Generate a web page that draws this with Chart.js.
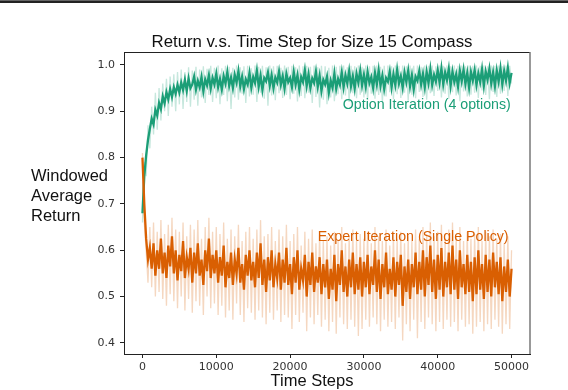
<!DOCTYPE html>
<html>
<head>
<meta charset="utf-8">
<script src="https://cdn.jsdelivr.net/npm/chart.js@4.4.1/dist/chart.umd.min.js"></script>
<style>
  html, body { margin: 0; padding: 0; background: #fff; }
  #wrap { position: relative; width: 568px; height: 390px; }
  #topbar { position: absolute; left: 0; top: 0; width: 568px; height: 3px; background: #222; border-top: 1px solid #666; box-sizing: border-box; }
</style>
</head>
<body>
<div id="wrap">
  <canvas id="chart" width="568" height="390"></canvas>
  <div id="topbar"></div>
</div>
<script>
// windowed return, sampled every 250 time steps (0 .. 50000)
const STEP = 250;
const xTicks = [0, 10000, 20000, 30000, 40000, 50000];
const yTicks = [0.4, 0.5, 0.6, 0.7, 0.8, 0.9, 1.0];

const optionMean = [
  0.680, 0.760, 0.805, 0.838, 0.862, 0.884, 0.872, 0.903, 0.891, 0.918, 0.905, 0.932, 0.917, 0.941, 0.926, 0.948, 0.931, 0.952, 0.938, 0.957,
  0.941, 0.962, 0.946, 0.968, 0.944, 0.971, 0.950, 0.958, 0.975, 0.947, 0.966, 0.952, 0.974, 0.943, 0.969, 0.956, 0.978, 0.949, 0.972, 0.958,
  0.981, 0.952, 0.970, 0.947, 0.976, 0.960, 0.985, 0.955, 0.973, 0.950, 0.979, 0.962, 0.987, 0.954, 0.975, 0.948, 0.969, 0.958, 0.983, 0.951,
  0.974, 0.961, 0.988, 0.953, 0.977, 0.946, 0.972, 0.965, 0.984, 0.955, 0.978, 0.950, 0.973, 0.962, 0.986, 0.957, 0.976, 0.949, 0.981, 0.963,
  0.972, 0.952, 0.985, 0.958, 0.978, 0.947, 0.974, 0.963, 0.989, 0.955, 0.980, 0.950, 0.971, 0.961, 0.986, 0.953, 0.977, 0.944, 0.968, 0.958,
  0.975, 0.940, 0.966, 0.951, 0.982, 0.948, 0.970, 0.957, 0.984, 0.952, 0.978, 0.960, 0.987, 0.954, 0.976, 0.949, 0.981, 0.962, 0.988, 0.956,
  0.979, 0.953, 0.985, 0.961, 0.974, 0.950, 0.983, 0.958, 0.989, 0.955, 0.977, 0.948, 0.972, 0.964, 0.986, 0.952, 0.980, 0.957, 0.990, 0.960,
  0.976, 0.951, 0.984, 0.963, 0.988, 0.954, 0.978, 0.947, 0.975, 0.966, 0.987, 0.958, 0.981, 0.952, 0.985, 0.961, 0.991, 0.957, 0.979, 0.964,
  0.989, 0.962, 0.993, 0.958, 0.984, 0.967, 0.992, 0.955, 0.986, 0.963, 0.980, 0.953, 0.988, 0.965, 0.990, 0.959, 0.983, 0.951, 0.985, 0.966,
  0.989, 0.957, 0.982, 0.963, 0.991, 0.955, 0.986, 0.968, 0.992, 0.960, 0.984, 0.954, 0.988, 0.964, 0.993, 0.958, 0.987, 0.966, 0.994, 0.961,
  0.983
];
const optionRaw = [
  0.660, 0.790, 0.760, 0.870, 0.820, 0.910, 0.850, 0.940, 0.860, 0.950, 0.880, 0.960, 0.900, 0.970, 0.890, 0.975, 0.910, 0.980, 0.900, 0.985,
  0.915, 0.990, 0.905, 0.985, 0.920, 0.995, 0.910, 0.988, 0.925, 0.996, 0.912, 0.990, 0.930, 0.997, 0.918, 0.992, 0.935, 0.998, 0.920, 0.994,
  0.928, 0.999, 0.915, 0.993, 0.935, 0.998, 0.922, 0.996, 0.905, 0.994, 0.930, 0.999, 0.925, 0.995, 0.938, 0.997, 0.918, 0.998, 0.932, 0.993,
  0.936, 0.999, 0.920, 0.996, 0.940, 0.998, 0.927, 0.995, 0.912, 0.999, 0.934, 0.997, 0.924, 0.998, 0.939, 0.994, 0.929, 0.999, 0.935, 0.996,
  0.926, 0.998, 0.938, 0.995, 0.921, 0.999, 0.933, 0.997, 0.928, 0.998, 0.940, 0.996, 0.918, 0.999, 0.931, 0.995, 0.908, 0.998, 0.925, 0.997,
  0.915, 0.994, 0.930, 0.999, 0.922, 0.996, 0.937, 0.998, 0.926, 0.999, 0.934, 0.995, 0.920, 0.998, 0.939, 0.997, 0.928, 0.999, 0.936, 0.996,
  0.930, 0.999, 0.924, 0.997, 0.938, 0.998, 0.927, 0.999, 0.935, 0.996, 0.919, 0.998, 0.932, 0.999, 0.941, 0.997, 0.926, 0.999, 0.937, 0.998,
  0.929, 0.999, 0.940, 0.997, 0.923, 0.999, 0.936, 0.998, 0.928, 0.999, 0.942, 0.996, 0.931, 0.999, 0.925, 0.998, 0.939, 0.999, 0.933, 0.997,
  0.944, 0.999, 0.930, 0.998, 0.938, 0.999, 0.927, 0.997, 0.941, 0.999, 0.934, 0.998, 0.922, 0.999, 0.943, 0.997, 0.932, 0.999, 0.936, 0.998,
  0.940, 0.999, 0.929, 0.998, 0.945, 0.999, 0.935, 0.997, 0.926, 0.999, 0.942, 0.998, 0.931, 0.999, 0.938, 0.997, 0.944, 0.999, 0.933, 0.998,
  0.960
];
const expertMean = [
  0.800, 0.700, 0.625, 0.580, 0.605, 0.560, 0.615, 0.545, 0.600, 0.560, 0.625, 0.550, 0.595, 0.540, 0.610, 0.565, 0.630, 0.550, 0.600, 0.535,
  0.590, 0.555, 0.620, 0.540, 0.585, 0.560, 0.605, 0.530, 0.595, 0.550, 0.615, 0.545, 0.580, 0.525, 0.600, 0.555, 0.625, 0.540, 0.590, 0.550,
  0.600, 0.530, 0.585, 0.545, 0.610, 0.520, 0.575, 0.540, 0.595, 0.525, 0.580, 0.550, 0.605, 0.530, 0.570, 0.515, 0.590, 0.545, 0.600, 0.535,
  0.575, 0.520, 0.595, 0.540, 0.615, 0.525, 0.580, 0.510, 0.585, 0.535, 0.600, 0.520, 0.570, 0.540, 0.595, 0.515, 0.580, 0.530, 0.605, 0.525,
  0.570, 0.505, 0.585, 0.530, 0.600, 0.515, 0.560, 0.535, 0.590, 0.500, 0.575, 0.525, 0.595, 0.510, 0.565, 0.530, 0.585, 0.505, 0.570, 0.520,
  0.580, 0.495, 0.560, 0.515, 0.590, 0.490, 0.570, 0.525, 0.600, 0.510, 0.565, 0.500, 0.580, 0.520, 0.595, 0.505, 0.570, 0.515, 0.585, 0.500,
  0.575, 0.520, 0.590, 0.505, 0.565, 0.525, 0.600, 0.510, 0.580, 0.495, 0.570, 0.520, 0.595, 0.505, 0.560, 0.515, 0.585, 0.500, 0.575, 0.525,
  0.590, 0.480, 0.565, 0.510, 0.580, 0.495, 0.570, 0.520, 0.595, 0.505, 0.575, 0.515, 0.600, 0.500, 0.585, 0.525, 0.610, 0.510, 0.580, 0.495,
  0.590, 0.515, 0.605, 0.500, 0.575, 0.520, 0.595, 0.505, 0.610, 0.515, 0.580, 0.495, 0.600, 0.520, 0.570, 0.505, 0.590, 0.510, 0.575, 0.490,
  0.585, 0.505, 0.600, 0.515, 0.570, 0.495, 0.590, 0.510, 0.580, 0.500, 0.595, 0.520, 0.575, 0.505, 0.585, 0.490, 0.565, 0.510, 0.580, 0.500,
  0.560
];
const expertRaw = [
  0.810, 0.660, 0.600, 0.530, 0.650, 0.520, 0.660, 0.500, 0.640, 0.510, 0.665, 0.495, 0.635, 0.480, 0.655, 0.505, 0.670, 0.490, 0.645, 0.475,
  0.640, 0.500, 0.660, 0.470, 0.630, 0.495, 0.655, 0.465, 0.645, 0.490, 0.665, 0.480, 0.625, 0.460, 0.650, 0.500, 0.670, 0.475, 0.640, 0.485,
  0.650, 0.460, 0.635, 0.480, 0.660, 0.455, 0.625, 0.470, 0.645, 0.450, 0.630, 0.485, 0.655, 0.460, 0.620, 0.445, 0.640, 0.475, 0.650, 0.465,
  0.625, 0.450, 0.645, 0.470, 0.665, 0.455, 0.630, 0.440, 0.635, 0.465, 0.650, 0.450, 0.620, 0.470, 0.645, 0.445, 0.630, 0.460, 0.655, 0.455,
  0.620, 0.430, 0.635, 0.460, 0.650, 0.445, 0.610, 0.465, 0.640, 0.425, 0.625, 0.455, 0.645, 0.440, 0.615, 0.460, 0.635, 0.435, 0.620, 0.450,
  0.630, 0.425, 0.610, 0.445, 0.640, 0.420, 0.620, 0.455, 0.650, 0.440, 0.615, 0.430, 0.630, 0.450, 0.645, 0.435, 0.620, 0.415, 0.635, 0.430,
  0.625, 0.450, 0.640, 0.435, 0.615, 0.455, 0.650, 0.440, 0.630, 0.425, 0.620, 0.450, 0.645, 0.435, 0.610, 0.445, 0.635, 0.430, 0.625, 0.455,
  0.640, 0.405, 0.615, 0.440, 0.630, 0.425, 0.620, 0.450, 0.645, 0.410, 0.625, 0.445, 0.650, 0.430, 0.635, 0.455, 0.660, 0.440, 0.630, 0.425,
  0.640, 0.445, 0.655, 0.430, 0.625, 0.450, 0.645, 0.435, 0.660, 0.445, 0.630, 0.425, 0.650, 0.450, 0.620, 0.435, 0.640, 0.440, 0.625, 0.420,
  0.635, 0.435, 0.650, 0.445, 0.620, 0.425, 0.640, 0.440, 0.630, 0.430, 0.645, 0.450, 0.625, 0.435, 0.635, 0.420, 0.615, 0.440, 0.630, 0.430,
  0.600
];

const GREEN = '#1b9e77';
const ORANGE = '#d95f02';

function toPoints(values) {
    return values.map((v, i) => ({ x: i * STEP, y: v }));
}

// text that matplotlib placed by hand: title, axis labels, series labels
const textPlugin = {
    id: 'figureText',
    afterDraw(chart) {
        const { ctx, chartArea, scales } = chart;
        const midX = (chartArea.left + chartArea.right) / 2 - 15;
        ctx.save();

        // spines (top/right too)
        ctx.strokeStyle = '#222';
        ctx.lineWidth = 1;
        ctx.beginPath();
        ctx.moveTo(chartArea.left, chartArea.top + 0.5);
        ctx.lineTo(chartArea.right, chartArea.top + 0.5);
        ctx.stroke();
        ctx.strokeStyle = '#777';
        ctx.lineWidth = 1.5;
        ctx.beginPath();
        ctx.moveTo(chartArea.right, chartArea.top);
        ctx.lineTo(chartArea.right, chartArea.bottom);
        ctx.stroke();

        ctx.fillStyle = '#111';
        ctx.font = '16.8px "Liberation Sans", Arial, sans-serif';
        ctx.textBaseline = 'middle';
        ctx.textAlign = 'center';
        ctx.fillText('Return v.s. Time Step for Size 15 Compass', midX, chartArea.top - 10);
        ctx.font = '16.5px "Liberation Sans", Arial, sans-serif';
        ctx.fillText('Time Steps', midX, chartArea.bottom + 27);

        ctx.textAlign = 'left';
        ['Windowed', 'Average', 'Return'].forEach((line, i) => {
            ctx.fillText(line, 31, 176 + i * 20);
        });

        ctx.font = '14.2px "Liberation Sans", Arial, sans-serif';
        ctx.textAlign = 'right';
        ctx.fillStyle = GREEN;
        ctx.fillText('Option Iteration (4 options)', scales.x.getPixelForValue(49900), scales.y.getPixelForValue(0.914));
        ctx.fillStyle = ORANGE;
        ctx.fillText('Expert Iteration (Single Policy)', scales.x.getPixelForValue(49600), scales.y.getPixelForValue(0.628));
        ctx.restore();
    }
};

const tickFont = { family: '"DejaVu Sans", sans-serif', size: 11 };

new Chart(document.getElementById('chart').getContext('2d'), {
    type: 'line',
    data: {
        datasets: [
            { data: toPoints(expertMean), borderColor: ORANGE, borderWidth: 2.3, order: 0 },
            { data: toPoints(optionMean), borderColor: GREEN, borderWidth: 2.3, order: 1 },
            { data: toPoints(expertRaw), borderColor: 'rgba(217,95,2,0.25)', borderWidth: 1.3, order: 2 },
            { data: toPoints(optionRaw), borderColor: 'rgba(27,158,119,0.25)', borderWidth: 1.3, order: 3 }
        ]
    },
    options: {
        responsive: false,
        animation: false,
        events: [],
        elements: { point: { radius: 0 }, line: { tension: 0, fill: false } },
        layout: { padding: { left: 80, right: 38, top: 52, bottom: 12 } },
        plugins: { legend: { display: false }, tooltip: { enabled: false } },
        scales: {
            x: {
                type: 'linear',
                min: -2500,
                max: 52500,
                afterBuildTicks: s => { s.ticks = xTicks.map(v => ({ value: v })); },
                afterFit: s => { s.height = 24; },
                border: { display: true, color: '#222', width: 1 },
                grid: { drawOnChartArea: false, drawTicks: true, tickLength: 4, color: '#222' },
                ticks: { color: '#333', font: tickFont, padding: 3, maxRotation: 0, callback: v => String(v) }
            },
            y: {
                type: 'linear',
                min: 0.376,
                max: 1.028,
                afterBuildTicks: s => { s.ticks = yTicks.map(v => ({ value: v })); },
                afterFit: s => { s.width = 44; },
                border: { display: true, color: '#222', width: 1 },
                grid: { drawOnChartArea: false, drawTicks: true, tickLength: 4, color: '#222' },
                ticks: { color: '#333', font: tickFont, padding: 5, callback: v => v.toFixed(1) }
            }
        }
    },
    plugins: [textPlugin]
});
</script>
</body>
</html>
